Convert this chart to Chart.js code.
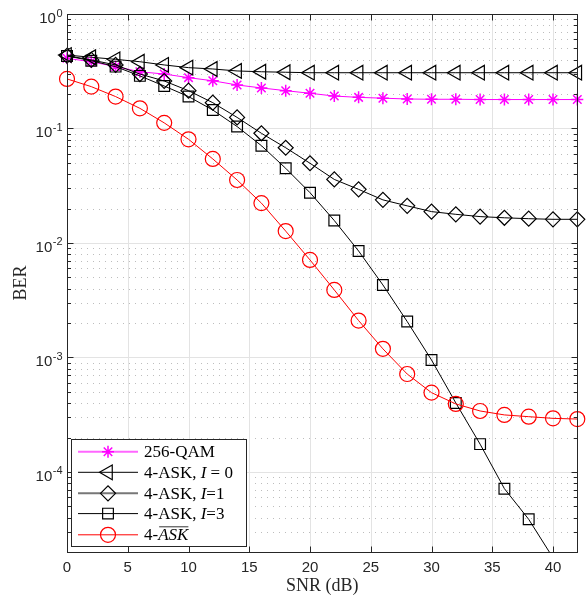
<!DOCTYPE html>
<html>
<head>
<meta charset="utf-8">
<script src="https://cdn.jsdelivr.net/npm/chart.js@4.4.0/dist/chart.umd.min.js"></script>
<style>
  html, body { margin: 0; padding: 0; background: #fff; }
</style>
</head>
<body>
<canvas id="ber" width="587" height="597"></canvas>
<script>
// ── dados ──────────────────────────────────────────────
const snr    = [0, 2, 4, 6, 8, 10, 12, 14, 16, 18, 20, 22, 24, 26, 28, 30, 32, 34, 36, 38, 40, 42];
const qam256 = [0.410, 0.383, 0.347, 0.313, 0.299, 0.278, 0.261, 0.240, 0.226, 0.214, 0.203, 0.192,
                0.187, 0.184, 0.181, 0.180, 0.180, 0.179, 0.179, 0.179, 0.179, 0.179];
const askI0  = [0.438, 0.419, 0.402, 0.383, 0.359, 0.340, 0.331, 0.318, 0.313, 0.310, 0.307, 0.307,
                0.307, 0.307, 0.307, 0.307, 0.307, 0.307, 0.307, 0.307, 0.307, 0.307];
const askI1  = [0.432, 0.397, 0.359, 0.299, 0.260, 0.214, 0.168, 0.125, 0.0908, 0.0679, 0.0497, 0.0359,
                0.0294, 0.0238, 0.0211, 0.0188, 0.0178, 0.0170, 0.0166, 0.0163, 0.0161, 0.0161];
const askI3  = [0.430, 0.391, 0.347, 0.288, 0.235, 0.190, 0.145, 0.104, 0.0708, 0.0449, 0.0275, 0.0157,
                0.00851, 0.00430, 0.00206, 0.000951, 0.000401, 0.000175, 7.15e-5, 3.86e-5, 1.78e-5, 9.0e-6];
const askBar = [0.271, 0.232, 0.190, 0.150, 0.112, 0.0805, 0.0542, 0.0355, 0.0223, 0.0127, 0.00711, 0.00389,
                0.00210, 0.00119, 0.000717, 0.000493, 0.000393, 0.000341, 0.000315, 0.000304, 0.000294, 0.000290];

const xTicks = [0, 5, 10, 15, 20, 25, 30, 35, 40];
const yExps  = [0, -1, -2, -3, -4];
const X_MIN = 0, X_MAX = 42, Y_MIN = 2e-5, Y_MAX = 1;

const AXIS = '#262626';
const GRID_MAJ = '#e3e3e3';
const GRID_MIN = '#bdbdbd';
const SERIF = '"Liberation Serif", "DejaVu Serif", serif';
const SANS  = '"Liberation Sans", Arial, sans-serif';

function pts(arr) { return snr.map((x, i) => ({ x, y: arr[i] })); }

function serie(label, arr, cor, estilo, raio, extra) {
  return Object.assign({
    label, data: pts(arr),
    borderColor: cor, borderWidth: 1,
    pointStyle: estilo,
    pointRadius: c => (c.raw && c.raw.y < Y_MIN) ? 0 : raio,
    pointBorderColor: cor, pointBackgroundColor: 'rgba(0,0,0,0)', pointBorderWidth: 1.2,
    tension: 0, fill: false,
    clip: { left: 12, right: 12, top: 0, bottom: 0 },
  }, extra || {});
}

const series = [
  serie('256-QAM', qam256, '#ff00ff', 'star', 6, { pointBorderWidth: 1.5, order: 5 }),
  serie('4-ASK, I = 0', askI0, '#000', 'triangle', 8.5, { pointRotation: -90, order: 4 }),
  serie('4-ASK, I=1', askI1, '#000', 'rectRot', 7.5, { order: 3 }),
  serie('4-ASK, I=3', askI3, '#000', 'rect', 7.6, { order: 2 }),
  serie('4-ASK bar', askBar, '#ff0000', 'circle', 7.5, { order: 1 }),
];

// ── eixos estilo MATLAB ───────────────────────────────
const eixosMatlab = {
  id: 'eixosMatlab',
  beforeDatasetsDraw(chart) {
    const { ctx, chartArea: a, scales: { x, y } } = chart;
    const L = Math.round(a.left), R = Math.round(a.right), T = Math.round(a.top), B = Math.round(a.bottom);
    ctx.save();
    ctx.lineWidth = 1;
    // grade menor (pontilhada)
    ctx.strokeStyle = GRID_MIN;
    ctx.setLineDash([1, 5]);
    for (let e = -5; e < 0; e++) {
      for (let m = 2; m <= 9; m++) {
        const v = m * Math.pow(10, e);
        if (v <= Y_MIN || v >= Y_MAX) continue;
        const py = Math.round(y.getPixelForValue(v)) + 0.5;
        ctx.beginPath(); ctx.moveTo(L + 2, py); ctx.lineTo(R, py); ctx.stroke();
      }
    }
    ctx.setLineDash([]);
    // grade maior
    ctx.strokeStyle = GRID_MAJ;
    xTicks.forEach(t => {
      if (t <= X_MIN) return;
      const px = Math.round(x.getPixelForValue(t)) + 0.5;
      ctx.beginPath(); ctx.moveTo(px, T); ctx.lineTo(px, B); ctx.stroke();
    });
    yExps.forEach(e => {
      const v = Math.pow(10, e);
      if (v >= Y_MAX) return;
      const py = Math.round(y.getPixelForValue(v)) + 0.5;
      ctx.beginPath(); ctx.moveTo(L, py); ctx.lineTo(R, py); ctx.stroke();
    });
    ctx.restore();
  },
  afterDatasetsDraw(chart) {
    const { ctx, chartArea: a, scales: { x, y } } = chart;
    const L = Math.round(a.left) + 0.5, R = Math.round(a.right) + 0.5;
    const T = Math.round(a.top) + 0.5, B = Math.round(a.bottom) + 0.5;
    ctx.save();
    ctx.strokeStyle = AXIS; ctx.lineWidth = 1;
    ctx.strokeRect(L, T, R - L, B - T);

    // ticks x
    ctx.beginPath();
    xTicks.forEach(t => {
      const px = Math.round(x.getPixelForValue(t)) + 0.5;
      ctx.moveTo(px, B); ctx.lineTo(px, B - 6);
      ctx.moveTo(px, T); ctx.lineTo(px, T + 6);
    });
    // ticks y (maiores e menores)
    for (let e = -5; e <= 0; e++) {
      for (let m = 1; m <= 9; m++) {
        const v = m * Math.pow(10, e);
        if (v < Y_MIN || v > Y_MAX) continue;
        const py = Math.round(y.getPixelForValue(v)) + 0.5;
        const len = m === 1 ? 6 : 3.5;
        ctx.moveTo(L, py); ctx.lineTo(L + len, py);
        ctx.moveTo(R, py); ctx.lineTo(R - len, py);
      }
    }
    ctx.stroke();

    // rótulos x
    ctx.fillStyle = AXIS;
    ctx.font = '15px ' + SANS;
    ctx.textAlign = 'center'; ctx.textBaseline = 'alphabetic';
    xTicks.forEach(t => ctx.fillText(String(t), x.getPixelForValue(t), 572));

    // rótulos y: 10^e
    yExps.forEach(e => {
      const py = y.getPixelForValue(Math.pow(10, e));
      const sup = String(e);
      ctx.font = '11px ' + SANS;
      const ws = ctx.measureText(sup).width;
      ctx.textAlign = 'left';
      const xr = 62.5;
      ctx.fillText(sup, xr - ws, py + 2.5);
      ctx.font = '15px ' + SANS;
      ctx.textAlign = 'right';
      ctx.fillText('10', xr - ws - 0.5, py + 9);
    });

    // títulos
    ctx.font = '18px ' + SERIF;
    ctx.textAlign = 'center';
    ctx.fillText('SNR (dB)', (a.left + a.right) / 2, 590.5);
    ctx.save();
    ctx.translate(26, (a.top + a.bottom) / 2);
    ctx.rotate(-Math.PI / 2);
    ctx.fillText('BER', 0, 0);
    ctx.restore();

    desenharLegenda(ctx);
    ctx.restore();
  }
};

function desenharLegenda(ctx) {
  const bx = 71.5, by = 439.5, bw = 175, bh = 107;
  ctx.fillStyle = '#fff';
  ctx.fillRect(bx, by, bw, bh);
  ctx.strokeStyle = AXIS; ctx.lineWidth = 1;
  ctx.strokeRect(bx, by, bw, bh);

  const ys = [451.7, 472.3, 493.3, 513.6, 534.8];
  const itens = [
    { cor: 'rgba(255,0,255,0.6)', lw: 2, mcor: '#ff00ff', st: 'star', r: 6, rot: 0, mw: 1.5 },
    { cor: '#000', lw: 1, mcor: '#000', st: 'triangle', r: 8.5, rot: -90, mw: 1.2 },
    { cor: '#777', lw: 2, mcor: '#000', st: 'rectRot', r: 7.5, rot: 0, mw: 1.2 },
    { cor: '#000', lw: 1, mcor: '#000', st: 'rect', r: 7.6, rot: 0, mw: 1.2 },
    { cor: '#ff0000', lw: 1, mcor: '#ff0000', st: 'circle', r: 7.5, rot: 0, mw: 1.2 },
  ];
  itens.forEach((it, i) => {
    const yy = ys[i];
    ctx.strokeStyle = it.cor; ctx.lineWidth = it.lw;
    ctx.beginPath(); ctx.moveTo(78, yy); ctx.lineTo(138, yy); ctx.stroke();
    ctx.strokeStyle = it.mcor; ctx.fillStyle = 'rgba(0,0,0,0)';
    ctx.lineWidth = it.mw;
    Chart.helpers.drawPoint(ctx, { pointStyle: it.st, radius: it.r, rotation: it.rot, borderWidth: it.mw }, 108, yy);
  });

  ctx.fillStyle = '#000';
  ctx.textAlign = 'left'; ctx.textBaseline = 'alphabetic';
  const it = 'italic 17px ' + SERIF, rm = '17px ' + SERIF;
  function partes(lista, x0, base) {
    let xx = x0;
    lista.forEach(([txt, f]) => { ctx.font = f; ctx.fillText(txt, xx, base); xx += ctx.measureText(txt).width; });
    return xx;
  }
  partes([['256-QAM', rm]], 144, ys[0] + 5.5);
  partes([['4-ASK, ', rm], ['I', it], [' = 0', rm]], 144, ys[1] + 5.5);
  partes([['4-ASK, ', rm], ['I', it], ['=1', rm]], 144, ys[2] + 5.5);
  partes([['4-ASK, ', rm], ['I', it], ['=3', rm]], 144, ys[3] + 5.5);
  const x1 = partes([['4-', rm]], 144, ys[4] + 5.5);
  const x2 = partes([['ASK', it]], x1, ys[4] + 5.5);
  ctx.strokeStyle = '#000'; ctx.lineWidth = 0.8;
  ctx.beginPath(); ctx.moveTo(x1 + 1, ys[4] - 8); ctx.lineTo(x2, ys[4] - 8); ctx.stroke();
}

new Chart(document.getElementById('ber'), {
  type: 'line',
  data: { datasets: series },
  options: {
    responsive: false,
    devicePixelRatio: 1,
    animation: false,
    layout: { padding: { left: 67, right: 7, top: 14, bottom: 45 } },
    scales: {
      x: { type: 'linear', min: X_MIN, max: X_MAX, display: false },
      y: { type: 'logarithmic', min: Y_MIN, max: Y_MAX, display: false },
    },
    plugins: { legend: { display: false }, tooltip: { enabled: false } },
  },
  plugins: [eixosMatlab],
});
</script>
</body>
</html>
